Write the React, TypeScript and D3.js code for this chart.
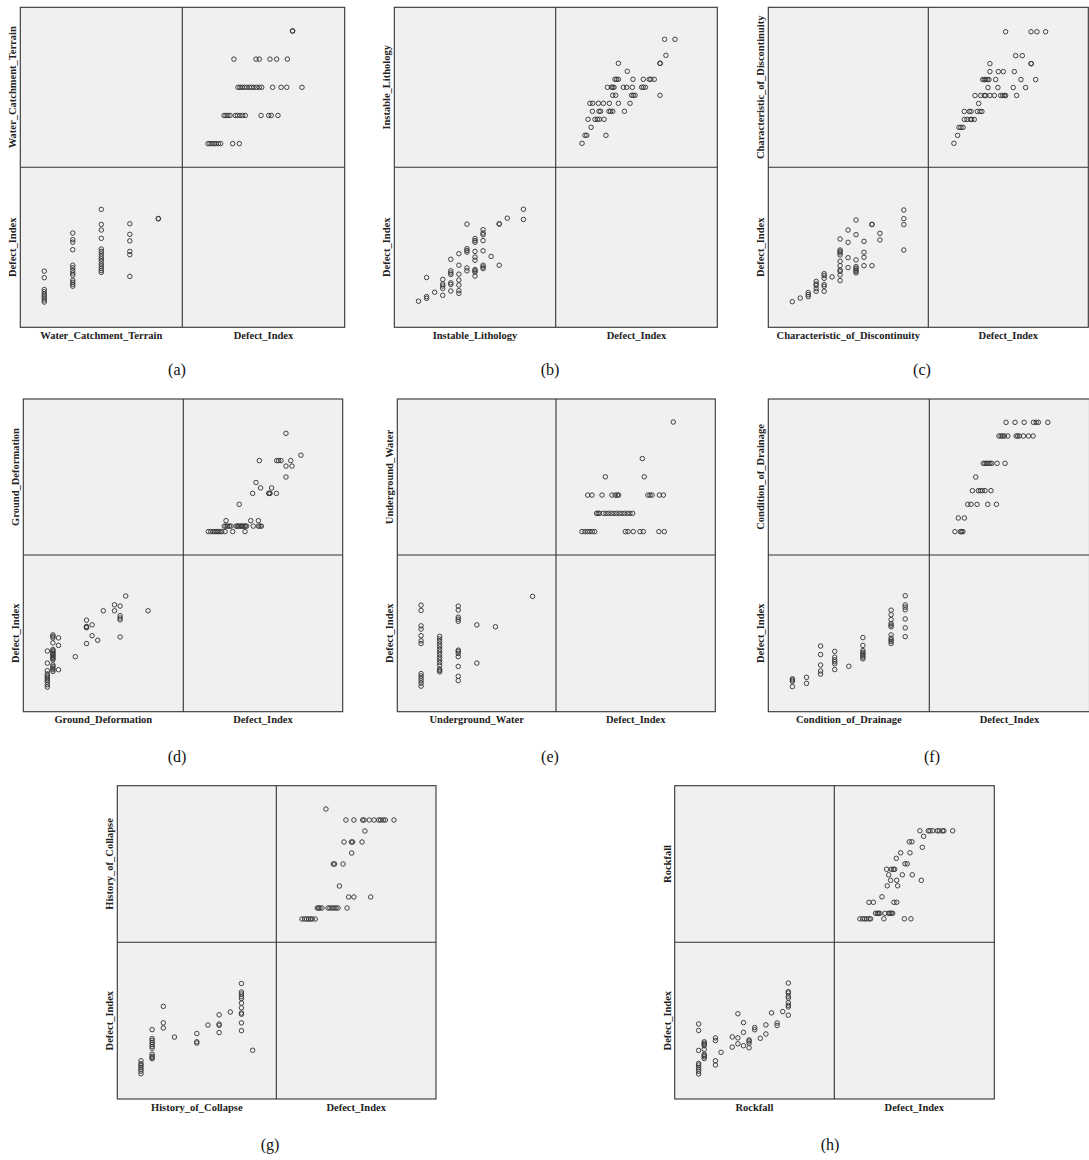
import React from 'react';
import * as d3 from 'd3';

// ---------- DATA ----------
// Defect_Index values (shared variable), read per panel, grouped by the level of the paired variable.
const DEFECT_LABEL = 'Defect_Index';
const DEFECT_DOMAIN: [number, number] = [0, 100];

// (a) Water_Catchment_Terrain
const WCT_LEVELS = [1, 2, 3, 4, 5];
const WCT_DOMAIN: [number, number] = [0.16, 5.84];
const WCT_DEFECT: number[][] = [
  [15.8, 17.0, 18.3, 19.5, 20.7, 22.2, 23.6, 31.0, 35.1],
  [25.7, 26.9, 28.1, 29.4, 32.6, 33.9, 35.5, 37.2, 38.8, 48.5, 53.2, 54.8, 58.9],
  [34.3, 35.5, 36.8, 38.2, 39.6, 41.3, 42.7, 44.1, 45.8, 47.4, 48.9, 55.6, 60.8, 64.3, 73.7],
  [31.8, 45.4, 47.4, 54.0, 58.1, 64.7],
  [67.8, 68.0],
];

// (b) Instable_Lithology
const IL_LEVELS = [0, 1, 2, 3, 4, 5, 6, 7, 8, 9, 10, 11, 13];
const IL_DOMAIN: [number, number] = [-3, 17];
const IL_DEFECT: number[][] = [
  [16.3],
  [18.1, 19.2, 31.1],
  [21.9],
  [20.0, 24.3, 25.8, 27.0, 29.9],
  [22.7, 26.8, 27.8, 33.0, 34.0, 35.3, 42.5],
  [21.2, 22.9, 26.4, 29.5, 33.2, 38.8, 46.0],
  [35.3, 37.1, 47.0, 48.0, 49.1, 64.5],
  [32.0, 34.5, 35.3, 36.1, 41.9, 43.9, 47.4, 53.2, 54.2, 55.5],
  [36.7, 37.7, 38.8, 47.8, 54.2, 57.9, 58.9, 61.0],
  [44.3],
  [38.8, 64.5, 64.7],
  [68.2],
  [67.4, 73.8],
];

// (c) Characteristic_of_Discontinuity
const CD_LEVELS = [0, 1, 2, 3, 4, 5, 6, 7, 8, 9, 10, 11, 14];
const CD_DOMAIN: [number, number] = [-3.01, 17.07];
const CD_DEFECT: number[][] = [
  [16.0],
  [18.3],
  [19.2, 20.4, 21.7],
  [22.5, 24.2, 26.25, 27.1, 28.75],
  [22.5, 25.6, 26.7, 30.6, 32.3, 33.5],
  [31.5],
  [29.2, 32.7, 35.0, 35.8, 38.5, 41.25, 45.2, 46.5, 47.5, 48.3, 55.2],
  [37.3, 43.5, 53.1, 60.8],
  [34.0, 35.0, 35.8, 36.9, 37.9, 42.1, 57.9, 67.1],
  [38.5, 43.75, 46.9, 53.75],
  [38.5, 64.2, 64.4],
  [54.6, 58.75],
  [48.3, 64.2, 67.9, 73.3],
];

// (d) Ground_Deformation
const GD_LEVELS = [0, 1, 2, 5, 7, 8, 9, 10, 12, 13, 14, 18];
const GD_DOMAIN: [number, number] = [-4.29, 24.29];
const GD_DEFECT: number[][] = [
  [15.7, 17.2, 18.8, 19.9, 20.9, 22.0, 23.0, 24.1, 26.2, 31.0, 38.7],
  [25.7, 26.8, 27.8, 28.9, 29.9, 33.1, 33.9, 34.7, 35.6, 36.4, 37.2, 38.1, 38.9, 39.7, 43.9, 47.1, 48.1, 49.0],
  [26.8, 42.3, 47.1],
  [35.1],
  [43.5, 53.6, 54.0, 54.4, 58.4],
  [48.5, 55.4],
  [45.6],
  [64.4],
  [64.4, 68.2],
  [47.7, 58.6, 59.8, 61.3, 67.4],
  [73.8],
  [64.4],
];

// (e) Underground_Water
const UW_LEVELS = [0, 1, 2, 3, 4, 6];
const UW_DOMAIN: [number, number] = [-1.28, 7.26];
const UW_DEFECT: number[][] = [
  [16.3, 18.2, 19.7, 21.3, 22.8, 24.3, 43.5, 45.2, 48.5, 52.7, 54.8, 64.6, 68.0],
  [25.5, 26.4, 27.2, 29.7, 31.4, 33.1, 34.7, 36.4, 38.1, 39.7, 41.4, 43.1, 44.8, 46.4, 48.1],
  [19.9, 22.6, 28.9, 35.1, 37.2, 38.5, 39.3, 57.7, 59.0, 60.3, 64.9, 67.4],
  [31.0, 55.4],
  [54.2],
  [73.6],
];

// (f) Condition_of_Drainage
const COD_LEVELS = [0, 1, 2, 3, 4, 5, 7, 8];
const COD_DOMAIN: [number, number] = [-1.71, 9.71];
const COD_DEFECT: number[][] = [
  [16.0, 19.4, 20.2, 21.0],
  [18.1, 21.9],
  [24.0, 26.0, 29.8, 36.5, 41.9],
  [26.9, 30.6, 31.9, 33.1, 34.8, 38.5],
  [29.0],
  [33.75, 34.8, 35.8, 36.9, 37.9, 39.0, 42.3, 47.3],
  [43.5, 44.8, 45.8, 46.9, 49.0, 54.2, 55.2, 56.25, 58.75, 61.9, 64.8],
  [47.9, 53.5, 59.2, 65.0, 66.7, 68.1, 74.0],
];

// (g) History_of_Collapse
const HOC_LEVELS = [0, 1, 2, 3, 5, 6, 7, 8, 9, 10];
const HOC_DOMAIN: [number, number] = [-2.12, 12.12];
const HOC_DEFECT: number[][] = [
  [16.1, 17.7, 19.0, 20.3, 21.5, 22.5, 24.4],
  [25.7, 26.5, 27.3, 28.6, 32.4, 33.6, 34.9, 36.1, 37.4, 38.6, 44.3],
  [45.3, 48.6, 59.1],
  [39.5],
  [35.7, 36.5, 41.8],
  [47.2],
  [42.4, 47.0, 47.8, 53.7],
  [55.5],
  [43.6, 48.6, 54.1, 54.9, 58.2, 61.2, 64.1, 65.3, 67.0, 68.3, 73.7],
  [31.1],
];

// (h) Rockfall
const RF_LEVELS = [0, 1, 3, 4, 6, 7, 8, 9, 10, 11, 12, 13, 14, 15, 16];
const RF_DOMAIN: [number, number] = [-4.27, 24.2];
const RF_DEFECT: number[][] = [
  [16.0, 17.7, 19.0, 20.2, 21.7, 22.7, 31.0, 43.75, 47.9],
  [25.8, 26.9, 27.7, 28.5, 31.7, 34.0, 34.8, 35.6, 36.5],
  [21.7, 24.4, 37.3, 39.0],
  [29.8],
  [33.1, 39.6],
  [35.2, 39.0, 54.4],
  [34.0, 42.5, 48.75],
  [32.7, 35.6, 36.9, 37.7],
  [44.2, 45.6],
  [38.75],
  [41.5, 47.3],
  [55.0],
  [46.9, 48.5],
  [55.8],
  [53.5, 58.75, 59.8, 61.5, 64.4, 65.6, 67.7, 68.5, 74.0],
];

const PANEL_NAMES = [
  'Water_Catchment_Terrain',
  'Instable_Lithology',
  'Characteristic_of_Discontinuity',
  'Ground_Deformation',
  'Underground_Water',
  'Condition_of_Drainage',
  'History_of_Collapse',
  'Rockfall',
];
const PANEL_CAPTIONS = ['(a)', '(b)', '(c)', '(d)', '(e)', '(f)', '(g)', '(h)'];
const PANEL_LEVELS = [WCT_LEVELS, IL_LEVELS, CD_LEVELS, GD_LEVELS, UW_LEVELS, COD_LEVELS, HOC_LEVELS, RF_LEVELS];
const PANEL_DEFECT = [WCT_DEFECT, IL_DEFECT, CD_DEFECT, GD_DEFECT, UW_DEFECT, COD_DEFECT, HOC_DEFECT, RF_DEFECT];
const PANEL_DOMAINS = [WCT_DOMAIN, IL_DOMAIN, CD_DOMAIN, GD_DOMAIN, UW_DOMAIN, COD_DOMAIN, HOC_DOMAIN, RF_DOMAIN];

// ---------- LAYOUT ----------
// L, M, R: left / middle / right edges ; T, H, B: top / middle / bottom edges ; cx, cy: caption
const LAYOUT = [
  { L: 20.3, M: 182.3, R: 344.7, T: 7.3, H: 167.3, B: 327.3, cx: 177, cy: 375 },
  { L: 394.3, M: 555.7, R: 717.3, T: 7.3, H: 167.3, B: 327.3, cx: 550, cy: 375 },
  { L: 768.3, M: 928.3, R: 1088.3, T: 7.3, H: 167.3, B: 327.3, cx: 922, cy: 375 },
  { L: 23.3, M: 183.3, R: 342.7, T: 399, H: 555, B: 711.7, cx: 177, cy: 762 },
  { L: 397.3, M: 556, R: 715.3, T: 399, H: 555, B: 711.7, cx: 550, cy: 762 },
  { L: 768.3, M: 929.3, R: 1089.5, T: 399, H: 555, B: 711.7, cx: 932, cy: 762 },
  { L: 117.3, M: 276.3, R: 436, T: 785.7, H: 942.3, B: 1099, cx: 270, cy: 1150 },
  { L: 674.7, M: 834.3, R: 994.3, T: 785.7, H: 942.3, B: 1099, cx: 830, cy: 1150 },
];

const BG = '#f0f0f0';
const LINE = '#333333';
const MARK = '#383838';
const FONT = '"Liberation Serif", "Times New Roman", serif';

function Panel({ idx }: { idx: number }) {
  const g = LAYOUT[idx];
  const name = PANEL_NAMES[idx];
  const levels = PANEL_LEVELS[idx];
  const defect = PANEL_DEFECT[idx];
  const dom = PANEL_DOMAINS[idx];

  const pts: { v: number; d: number }[] = [];
  levels.forEach((lv, i) => defect[i].forEach((d) => pts.push({ v: lv, d })));

  // bottom-left cell: x = variable, y = Defect_Index
  const xVarBL = d3.scaleLinear().domain(dom).range([g.L, g.M]);
  const yDefBL = d3.scaleLinear().domain(DEFECT_DOMAIN).range([g.B, g.H]);
  // top-right cell: x = Defect_Index, y = variable
  const xDefTR = d3.scaleLinear().domain(DEFECT_DOMAIN).range([g.M, g.R]);
  const yVarTR = d3.scaleLinear().domain(dom).range([g.H, g.T]);

  const r = 2.25;
  const sw = 0.95;
  return (
    <g>
      <rect x={g.L} y={g.T} width={g.R - g.L} height={g.B - g.T} fill={BG} stroke="none" />
      {pts.map((p, i) => (
        <circle key={'bl' + i} cx={xVarBL(p.v)} cy={yDefBL(p.d)} r={r} fill="none" stroke={MARK} strokeWidth={sw} />
      ))}
      {pts.map((p, i) => (
        <circle key={'tr' + i} cx={xDefTR(p.d)} cy={yVarTR(p.v)} r={r} fill="none" stroke={MARK} strokeWidth={sw} />
      ))}
      <rect x={g.L} y={g.T} width={g.R - g.L} height={g.B - g.T} fill="none" stroke={LINE} strokeWidth={1.1} />
      <line x1={g.M} x2={g.M} y1={g.T} y2={g.B} stroke={LINE} strokeWidth={1.1} />
      <line x1={g.L} x2={g.R} y1={g.H} y2={g.H} stroke={LINE} strokeWidth={1.1} />
      {/* row labels */}
      <text
        transform={`translate(${g.L - 4},${(g.T + g.H) / 2}) rotate(-90)`}
        textAnchor="middle"
        fontFamily={FONT}
        fontWeight="bold"
        fontSize={10.5}
        fill="#222"
      >
        {name}
      </text>
      <text
        transform={`translate(${g.L - 4},${(g.H + g.B) / 2}) rotate(-90)`}
        textAnchor="middle"
        fontFamily={FONT}
        fontWeight="bold"
        fontSize={10.5}
        fill="#222"
      >
        {DEFECT_LABEL}
      </text>
      {/* column labels */}
      <text x={(g.L + g.M) / 2} y={g.B + 11.5} textAnchor="middle" fontFamily={FONT} fontWeight="bold" fontSize={10.5} fill="#222">
        {name}
      </text>
      <text x={(g.M + g.R) / 2} y={g.B + 11.5} textAnchor="middle" fontFamily={FONT} fontWeight="bold" fontSize={10.5} fill="#222">
        {DEFECT_LABEL}
      </text>
      {/* caption */}
      <text x={g.cx} y={g.cy} textAnchor="middle" fontFamily={FONT} fontSize={16} fill="#111">
        {PANEL_CAPTIONS[idx]}
      </text>
    </g>
  );
}

export default function App() {
  return (
    <div style={{ position: 'absolute', left: 0, top: 0 }}>
      <svg width={1089} height={1160} style={{ display: 'block', background: '#ffffff' }}>
        {PANEL_NAMES.map((_, i) => (
          <Panel key={i} idx={i} />
        ))}
      </svg>
    </div>
  );
}
